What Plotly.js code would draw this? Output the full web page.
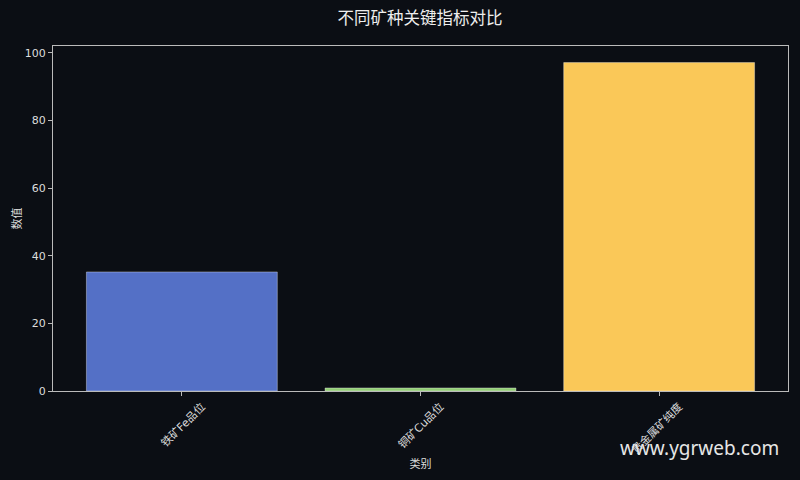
<!DOCTYPE html>
<html>
<head>
<meta charset="utf-8">
<script src="https://cdn.plot.ly/plotly-3.0.1.min.js"></script>
<style>
  html, body { margin: 0; padding: 0; background: #0b0e14; }
  #chart { width: 800px; height: 480px; }
</style>
</head>
<body>
<div id="chart"></div>
<script>
// 数据
const categories = ['铁矿Fe品位', '铜矿Cu品位', '贵金属矿纯度'];
const values = [35.2, 0.9, 97.1];
const barColors = ['#5470c6', '#91cc75', '#fac858'];

const fontFamily = '"DejaVu Sans", "Noto Sans CJK SC", sans-serif';

const trace = {
    x: categories,
    y: values,
    type: 'bar',
    width: 0.8,
    marker: {
        color: barColors,
        line: { color: 'rgba(255,255,255,0.35)', width: 1 }
    },
    hoverinfo: 'x+y'
};

const layout = {
    width: 800,
    height: 480,
    paper_bgcolor: '#0b0e14',
    plot_bgcolor: '#0b0e14',
    margin: { l: 53, r: 12, t: 46, b: 89 },
    font: { family: fontFamily, color: '#dddddd', size: 11 },
    title: {
        text: '不同矿种关键指标对比',
        font: { family: fontFamily, size: 16.5, color: '#eeeeee' },
        x: 0.525,
        xanchor: 'center',
        y: 0.962,
        yanchor: 'middle'
    },
    xaxis: {
        title: { text: '类别', font: { size: 11, color: '#dddddd' }, standoff: 4 },
        range: [-0.54, 2.54],
        tickangle: -45,
        ticklabelshift: 20,
        ticks: 'outside',
        ticklen: 4,
        tickcolor: '#bbbbbb',
        showline: true,
        linecolor: '#bbbbbb',
        linewidth: 1,
        mirror: true,
        showgrid: false,
        zeroline: false
    },
    yaxis: {
        title: { text: '数值', font: { size: 11, color: '#dddddd' }, standoff: 0 },
        range: [0, 102],
        tickvals: [0, 20, 40, 60, 80, 100],
        ticks: 'outside',
        ticklen: 4,
        tickcolor: '#bbbbbb',
        showline: true,
        linecolor: '#bbbbbb',
        linewidth: 1,
        mirror: true,
        showgrid: false,
        zeroline: false
    },
    annotations: [{
        text: 'www.ygrweb.com',
        xref: 'paper', yref: 'paper',
        x: 0.99, y: -0.165,
        xanchor: 'right', yanchor: 'middle',
        showarrow: false,
        font: { family: '"Noto Sans", sans-serif', size: 19, color: '#e6e6e6' }
    }],
    showlegend: false
};

Plotly.newPlot('chart', [trace], layout, { displayModeBar: false, staticPlot: true });
</script>
</body>
</html>
